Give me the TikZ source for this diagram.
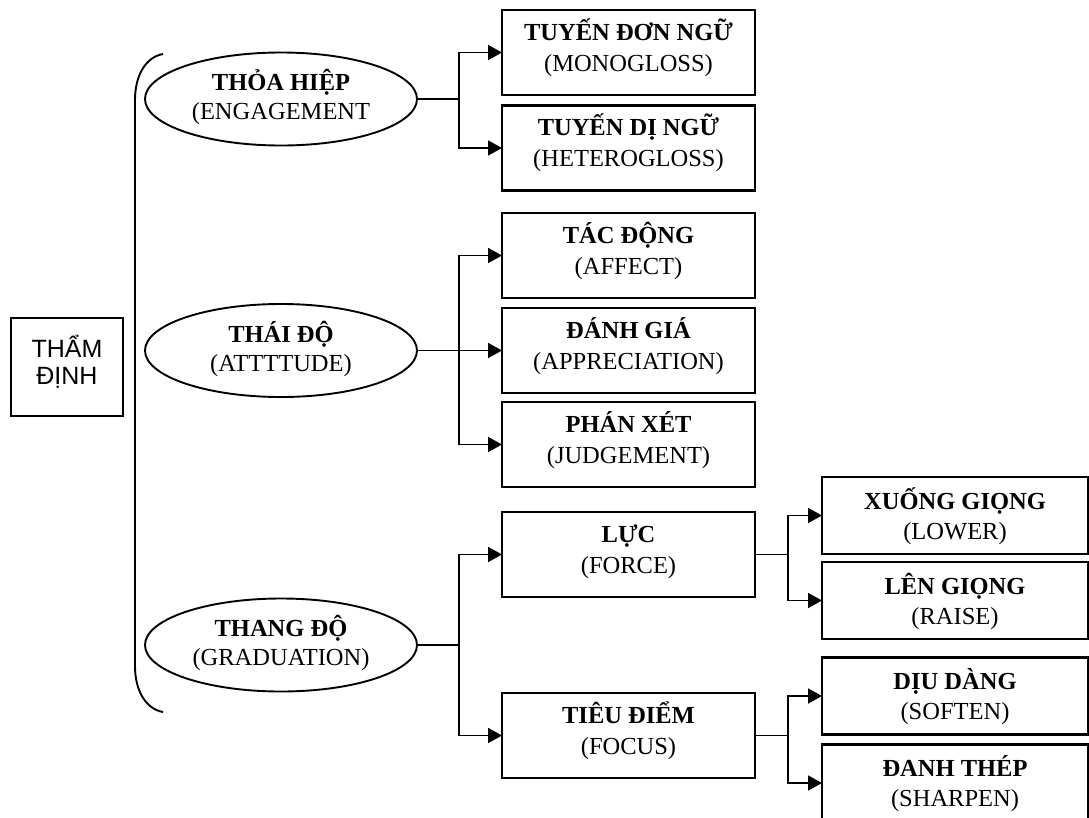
\documentclass[tikz,border=0pt]{standalone}
\usepackage{fontspec}
\setmainfont{Liberation Serif}
\newfontfamily\rootfont{Liberation Sans}
\usetikzlibrary{arrows.meta,shapes.geometric}

% two centred lines: a bold term over its English gloss
\newcommand\termpair[3][30pt]{{\setlength\tabcolsep{0pt}\renewcommand\arraystretch{1}%
  \fontsize{24.5pt}{#1}\selectfont\begin{tabular}{c}\textbf{#2}\\#3\end{tabular}}}

\begin{document}
\begin{tikzpicture}[x=1pt,y=-1pt,
  link/.style={line width=1.9pt},
  arrowlink/.style={line width=1.9pt,-{Triangle[length=14pt,width=15pt]}},
  rootbox/.style={draw,line width=1.5pt,minimum width=112pt,minimum height=98pt,inner sep=0pt,outer sep=0pt},
  oval/.style={draw,ellipse,line width=1.9pt,minimum width=272pt,minimum height=93pt,inner sep=0pt,outer sep=0pt},
  midbox/.style={draw,line width=2.1pt,minimum width=253pt,minimum height=85pt,inner sep=0pt,outer sep=0pt},
  leafbox/.style={draw,line width=2.1pt,minimum width=266pt,minimum height=77pt,inner sep=0pt,outer sep=0pt},
  midtext/.style={inner sep=0pt,yshift=3.2pt},
  leaftext/.style={inner sep=0pt,yshift=-2.5pt},
  roottext/.style={inner sep=0pt,yshift=3pt}
]
\fill[white] (0,0) rectangle (1089,817);
\clip (0,0) rectangle (1089,817);

% root
\node[rootbox,label={[roottext]center:{\setlength\tabcolsep{0pt}\rootfont\fontsize{25pt}{27pt}\selectfont\begin{tabular}{c}THẨM\\ĐỊNH\end{tabular}}}] (root) at (67,367) {};

% brace grouping the three systems
\draw[link] (163,54) .. controls (146,57) and (135,75) .. (135,100)
  -- (135,666) .. controls (135,691) and (146,709) .. (163,712);

% the three systems
\node[oval] (e1) at (281,99) {\termpair[29pt]{THỎA HIỆP}{(ENGAGEMENT}};
\node[oval] (e2) at (281,350.5) {\termpair[29pt]{THÁI ĐỘ}{(ATTTTUDE)}};
\node[oval] (e3) at (281,645) {\termpair[29pt]{THANG ĐỘ}{(GRADUATION)}};

% subsystems
\node[midbox,label={[midtext]center:{\termpair[31pt]{TUYẾN ĐƠN NGỮ}{(MONOGLOSS)}}}] (b1) at (628.5,52.5) {};
\node[midbox,label={[midtext]center:{\termpair[31pt]{TUYẾN DỊ NGỮ}{(HETEROGLOSS)}}}] (b2) at (628.5,148) {};
\node[midbox,label={[midtext]center:{\termpair[31pt]{TÁC ĐỘNG}{(AFFECT)}}}] (b3) at (628.5,255.5) {};
\node[midbox,label={[midtext]center:{\termpair[31pt]{ĐÁNH GIÁ}{(APPRECIATION)}}}] (b4) at (628.5,350.5) {};
\node[midbox,label={[midtext]center:{\termpair[31pt]{PHÁN XÉT}{(JUDGEMENT)}}}] (b5) at (628.5,444.5) {};
\node[midbox,label={[midtext]center:{\termpair[31pt]{LỰC}{(FORCE)}}}] (b6) at (628.5,554.5) {};
\node[midbox,label={[midtext]center:{\termpair[31pt]{TIÊU ĐIỂM}{(FOCUS)}}}] (b7) at (628.5,735.5) {};

% graduation sub-options
\node[leafbox,label={[leaftext]center:{\termpair{XUỐNG GIỌNG}{(LOWER)}}}] (c1) at (955,515.5) {};
\node[leafbox,label={[leaftext]center:{\termpair{LÊN GIỌNG}{(RAISE)}}}] (c2) at (955,600.5) {};
\node[leafbox,label={[leaftext]center:{\termpair{DỊU DÀNG}{(SOFTEN)}}}] (c3) at (955,696) {};
\node[leafbox,label={[leaftext]center:{\termpair{ĐANH THÉP}{(SHARPEN)}}}] (c4) at (955,783) {};

% connectors
\draw[arrowlink] (e1.east) -- ++(42,0) |- (b1.west);
\draw[arrowlink] (e1.east) -- ++(42,0) |- (b2.west);
\draw[arrowlink] (e2.east) -- ++(42,0) |- (b3.west);
\draw[arrowlink] (e2.east) -- (b4.west);
\draw[arrowlink] (e2.east) -- ++(42,0) |- (b5.west);
\draw[arrowlink] (e3.east) -- ++(42,0) |- (b6.west);
\draw[arrowlink] (e3.east) -- ++(42,0) |- (b7.west);
\draw[arrowlink] (b6.east) -- ++(33,0) |- (c1.west);
\draw[arrowlink] (b6.east) -- ++(33,0) |- (c2.west);
\draw[arrowlink] (b7.east) -- ++(33,0) |- (c3.west);
\draw[arrowlink] (b7.east) -- ++(33,0) |- (c4.west);
\end{tikzpicture}
\end{document}
